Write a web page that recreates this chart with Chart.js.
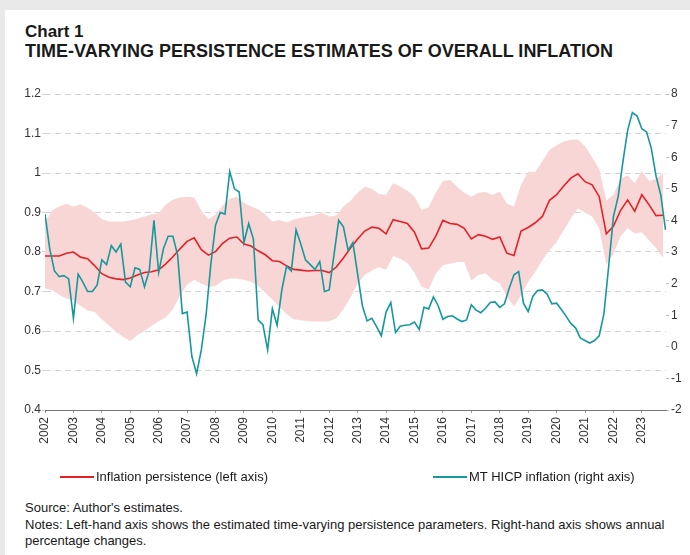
<!DOCTYPE html>
<html>
<head>
<meta charset="utf-8">
<script src="https://cdn.jsdelivr.net/npm/chart.js@4.4.1/dist/chart.umd.min.js"></script>
<style>
  body { margin: 0; background: #e9e9e9; font-family: 'Liberation Sans', Arial, sans-serif; color: #1a1a1a; }
  #panel { position: absolute; left: 5px; top: 10px; width: 685px; height: 545px; background: #fff; }
  .title1 { position: absolute; left: 25px; top: 22px; font-size: 17px; font-weight: bold; }
  .title2 { position: absolute; left: 25px; top: 41px; font-size: 18px; font-weight: bold; white-space: nowrap; }
  #chart { position: absolute; left: 0; top: 80px; }
  .leg { position: absolute; top: 469px; font-size: 13px; white-space: nowrap; }
  .leg i { display: inline-block; width: 34px; height: 2px; vertical-align: middle; margin-right: 2px; margin-top: -2px; }
  .notes { position: absolute; left: 25px; top: 500px; width: 662px; font-size: 13px; line-height: 16.5px; }
</style>
</head>
<body>
<div id="panel"></div>
<div class="title1">Chart 1</div>
<div class="title2">TIME-VARYING PERSISTENCE ESTIMATES OF OVERALL INFLATION</div>
<canvas id="chart" width="690" height="390"></canvas>
<div class="leg" style="left:60px"><i style="background:#e42226"></i>Inflation persistence (left axis)</div>
<div class="leg" style="left:433px"><i style="background:#16989c"></i>MT HICP inflation (right axis)</div>
<div class="notes">Source: Author's estimates.<br>Notes: Left-hand axis shows the estimated time-varying persistence parameters. Right-hand axis shows annual percentage changes.</div>

<script>
const startYear = 2002;
const yearTicks = [2002, 2003, 2004, 2005, 2006, 2007, 2008, 2009, 2010, 2011, 2012,
  2013, 2014, 2015, 2016, 2017, 2018, 2019, 2020, 2021, 2022, 2023];

// persistence estimate and its band, read every quarter from Jan 2002
const qStep = 0.25;
const persistence = [0.79, 0.79, 0.79, 0.797, 0.80, 0.787, 0.783, 0.765, 0.745, 0.736,
  0.732, 0.730, 0.734, 0.742, 0.748, 0.750, 0.755, 0.770, 0.788, 0.808,
  0.827, 0.836, 0.806, 0.792, 0.801, 0.822, 0.835, 0.838, 0.82, 0.815,
  0.803, 0.793, 0.778, 0.776, 0.765, 0.756, 0.754, 0.752, 0.753, 0.753,
  0.748, 0.762, 0.785, 0.81, 0.833, 0.853, 0.863, 0.86, 0.846, 0.882,
  0.877, 0.872, 0.85, 0.808, 0.81, 0.84, 0.88, 0.872, 0.87, 0.86,
  0.833, 0.844, 0.84, 0.832, 0.838, 0.797, 0.791, 0.853, 0.862, 0.874,
  0.89, 0.931, 0.945, 0.967, 0.987, 0.998, 0.978, 0.97, 0.94, 0.846,
  0.865, 0.905, 0.932, 0.903, 0.945, 0.92, 0.892, 0.893];
const bandUpper = [0.875, 0.905, 0.915, 0.922, 0.915, 0.92, 0.912, 0.9, 0.883, 0.877,
  0.877, 0.877, 0.88, 0.884, 0.89, 0.895, 0.898, 0.92, 0.932, 0.938,
  0.94, 0.938, 0.905, 0.883, 0.895, 0.918, 0.935, 0.94, 0.925, 0.915,
  0.908, 0.895, 0.877, 0.881, 0.875, 0.882, 0.887, 0.89, 0.893, 0.9,
  0.89, 0.893, 0.915, 0.93, 0.95, 0.965, 0.96, 0.947, 0.945, 0.974,
  0.966, 0.955, 0.94, 0.907, 0.913, 0.95, 0.98, 0.982, 0.965, 0.95,
  0.94, 0.95, 0.952, 0.944, 0.953, 0.922, 0.915, 0.97, 1.003, 1.003,
  1.03, 1.058, 1.07, 1.08, 1.084, 1.085, 1.068, 1.04, 1.01, 0.93,
  0.945, 0.985, 0.994, 0.974, 1.005, 0.98, 0.985, 1.0];
const bandLower = [0.708, 0.703, 0.692, 0.682, 0.678, 0.664, 0.652, 0.648, 0.63, 0.614,
  0.598, 0.585, 0.575, 0.59, 0.6, 0.613, 0.625, 0.635, 0.655, 0.69,
  0.718, 0.73, 0.72, 0.712, 0.714, 0.727, 0.733, 0.733, 0.73, 0.725,
  0.714, 0.697, 0.68, 0.661, 0.643, 0.63, 0.627, 0.625, 0.624, 0.624,
  0.625, 0.632, 0.655, 0.685, 0.72, 0.742, 0.753, 0.762, 0.755, 0.79,
  0.783, 0.772, 0.748, 0.712, 0.705, 0.745, 0.767, 0.77, 0.775, 0.775,
  0.728, 0.742, 0.746, 0.73, 0.721, 0.687, 0.662, 0.69, 0.725, 0.75,
  0.78, 0.805, 0.825, 0.855, 0.885, 0.91, 0.9, 0.89, 0.86, 0.768,
  0.795, 0.84, 0.86, 0.847, 0.85, 0.83, 0.81, 0.785];

// MT HICP inflation, read every two months from Jan 2002
const hicpStep = 1 / 6;
const hicp = [4.2, 3.1, 2.4, 2.22, 2.25, 2.15, 0.9, 2.3, 2.05, 1.75,
  1.75, 1.95, 2.75, 2.6, 3.2, 3.0, 3.25, 2.05, 1.9, 2.5,
  2.45, 1.9, 2.4, 4.0, 2.35, 3.1, 3.5, 3.5, 2.9, 1.05,
  1.1, -0.3, -0.85, -0.1, 1.0, 2.6, 3.85, 4.25, 4.2, 5.55,
  5.0, 4.9, 3.3, 3.9, 3.4, 0.85, 0.7, -0.1, 1.2, 0.68,
  1.8, 2.55, 2.4, 3.7, 3.25, 2.75, 2.6, 2.45, 2.7, 1.75,
  1.8, 2.9, 4.0, 3.8, 3.05, 3.3, 2.3, 1.3, 0.82, 0.9,
  0.64, 0.35, 1.1, 1.4, 0.45, 0.65, 0.68, 0.7, 0.78, 0.55,
  1.25, 1.2, 1.58, 1.3, 0.87, 0.96, 0.98, 0.88, 0.8, 0.85,
  1.33, 1.16, 1.08, 1.22, 1.4, 1.42, 1.25, 1.36, 1.85, 2.28,
  2.38, 1.38, 1.12, 1.6, 1.78, 1.8, 1.67, 1.36, 1.38, 1.18,
  0.97, 0.74, 0.6, 0.28, 0.2, 0.12, 0.2, 0.35, 1.05, 2.55,
  4.12, 4.75, 5.85, 6.85, 7.41, 7.3, 6.9, 6.8, 6.28, 5.4,
  4.8, 3.7];

const toPoints = (vals, step) => vals.map((v, i) => ({ x: startYear + i * step, y: v }));

const tickFont = { family: "'Liberation Sans', Arial, sans-serif", size: 12 };
const red = '#e42226';
const teal = '#16989c';

new Chart(document.getElementById('chart'), {
  type: 'line',
  data: {
    datasets: [
      { data: toPoints(bandUpper, qStep), borderWidth: 0, pointRadius: 0, fill: '+1',
        backgroundColor: '#f8d6d6', yAxisID: 'y', order: 3 },
      { data: toPoints(bandLower, qStep), borderWidth: 0, pointRadius: 0, fill: false,
        yAxisID: 'y', order: 3 },
      { label: 'Inflation persistence (left axis)', data: toPoints(persistence, qStep),
        borderColor: red, borderWidth: 1.6, pointRadius: 0, yAxisID: 'y', order: 2 },
      { label: 'MT HICP inflation (right axis)', data: toPoints(hicp, hicpStep),
        borderColor: teal, borderWidth: 1.6, pointRadius: 0, yAxisID: 'y2', order: 1 }
    ]
  },
  options: {
    responsive: false,
    animation: false,
    layout: { padding: { top: 14, left: 0, right: 0, bottom: 0 } },
    plugins: { legend: { display: false }, tooltip: { enabled: false } },
    scales: {
      x: {
        type: 'linear',
        min: 2002,
        max: 2023.85,
        afterBuildTicks: s => { s.ticks = yearTicks.map(v => ({ value: v })); },
        afterFit: s => { s.height = 60; },
        grid: { drawOnChartArea: false, tickLength: 3, color: '#999' },
        border: { display: true, color: '#777', width: 1 },
        ticks: { font: tickFont, color: '#333', padding: 4, minRotation: 90, maxRotation: 90,
          autoSkip: false, callback: v => String(v) }
      },
      y: {
        position: 'left',
        min: 0.4,
        max: 1.2,
        afterFit: s => { s.width = 45; },
        grid: { color: '#d4d4d4', tickLength: 3 },
        border: { display: false, dash: [6, 4] },
        ticks: { stepSize: 0.1, font: tickFont, color: '#333', padding: 1,
          callback: v => String(Math.round(v * 10) / 10) }
      },
      y2: {
        position: 'right',
        min: -2,
        max: 8,
        afterFit: s => { s.width = 24; },
        grid: { drawOnChartArea: false, color: '#bbb', tickLength: 3 },
        border: { display: false },
        ticks: { stepSize: 1, font: tickFont, color: '#333', padding: 2 }
      }
    }
  }
});
</script>
</body>
</html>
